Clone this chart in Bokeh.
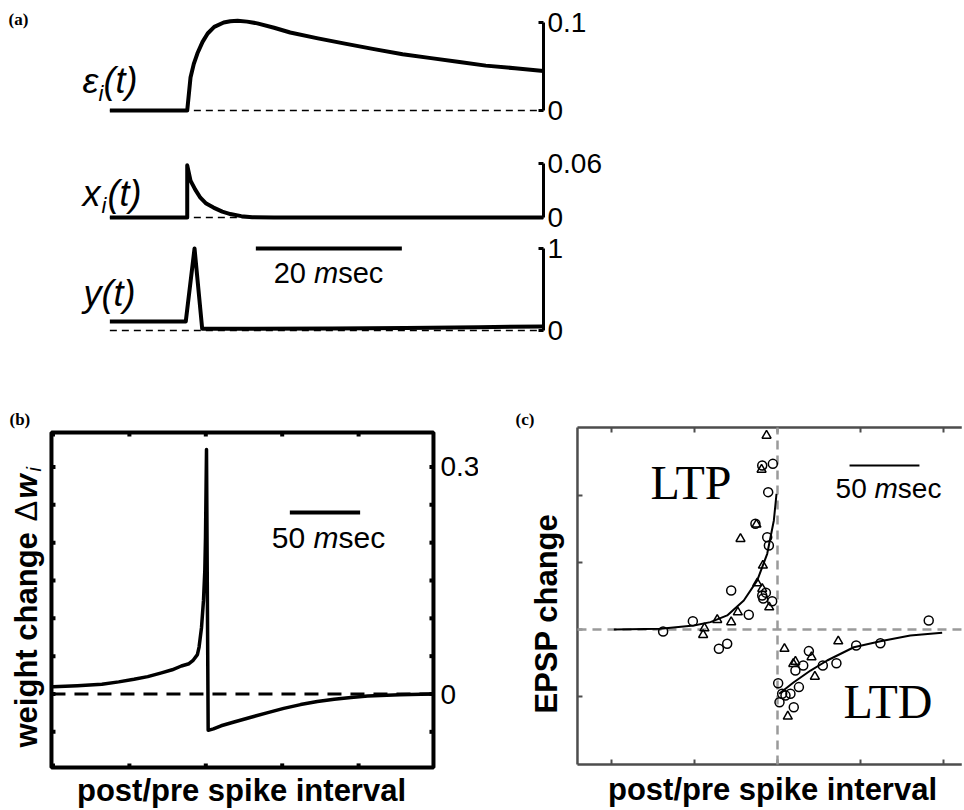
import math
from bokeh.plotting import figure
from bokeh.models import Range1d, LinearAxis, FixedTicker, Label
from bokeh.layouts import column, row
from bokeh.embed import file_html
from bokeh.resources import INLINE

# ---------------- data ----------------
# panel (a): time in ms relative to the presynaptic spike
eps_t = [-10.5, 0.1, 0.55, 1.0, 1.5, 2.2, 2.9, 3.8, 5.1, 6.0, 7.0, 8.3, 9.7, 12.0, 14.2, 18.0,
         21.7, 25.5, 29.6, 33.5, 37.4, 41.0, 45.0, 48.9]
eps_v = [0, 0, 0.0375, 0.053, 0.065, 0.078, 0.0875, 0.095, 0.100, 0.1015, 0.102, 0.101, 0.099,
         0.094, 0.0886, 0.082, 0.076, 0.070, 0.064, 0.0595, 0.055, 0.051, 0.048, 0.045]
x_t = [-10.5, 0.1, 0.1, 0.55, 1.2, 1.9, 2.7, 3.7, 4.9, 6.0, 7.5, 9.0, 12.0, 20.0, 35.0, 48.9]
x_v = [0, 0, 0.058, 0.041, 0.031, 0.022, 0.0155, 0.011, 0.0065, 0.0038, 0.0015, 0.0004, 0, 0, 0, 0]
y_t = [-10.5, -0.1, 1.1, 2.15, 8.3, 20.0, 30.0, 40.0, 48.9]
y_v = [0.11, 0.11, 1.0, 0.02, 0.02, 0.025, 0.03, 0.04, 0.05]
a_ticks = [(0, 0.1), (0, 0.06), (0, 1)]
a_tick_labels = [("0", "0.1"), ("0", "0.06"), ("0", "1")]
a_bar_t = [9.5, 29.5]
a_bar_v = [1.0, 1.0]

# panel (b): weight change vs post/pre spike interval (ms)
b_t = [-100, -84, -68, -57, -47, -38, -29, -22, -16, -11, -8.5, -5.5, -4.4, -2.8, -1.5, -0.65, -0.2, 0.46,
       1.55, 5, 10, 18.5, 29, 40, 51, 62, 73, 84, 95, 106, 127, 148]
b_v = [0.0095, 0.011, 0.0128, 0.016, 0.0194, 0.023, 0.028, 0.032, 0.037, 0.040, 0.044, 0.052, 0.062,
       0.088, 0.124, 0.163, 0.207, 0.323, -0.048, -0.046, -0.042, -0.037, -0.031, -0.025, -0.019,
       -0.014, -0.010, -0.0068, -0.0045, -0.0025, -0.001, 0]
b_xlim = [-101, 149]
b_ylim = [-0.097, 0.3456]
b_yticks = [-0.05, 0, 0.05, 0.1, 0.15, 0.2, 0.25, 0.3]
b_xticks = [-100, -50, 0, 50, 100]
b_ylabels = {0.3: "0.3", 0: "0"}
b_bar_t = [55, 101]
b_bar_v = [0.24, 0.24]

# panel (c): EPSP change (%) vs spike interval (ms)
c_circ_t = [-68.9, -51.0, -35.3, -30.3, -27.9, -17.3, -9.2, -2.8, -5.6, -13.3, -5.2, -6.2, -9.2, -3.2,
            -8.6, -7.0, 91.1, 0.4, 1.2, 2.8, 7.8, 10.8, 15.5, 18.9, 12.9, 9.8, 27.3, 35.5, 47.4, 62.0, 4.8]
c_circ_v = [-1.2, 5.0, -11.5, -8.5, 23.3, 8.8, 97.9, 98.9, 82.0, 63.1, 50.1, 55.1, 20.3, 16.9,
            18.5, 22.0, 5.4, -32.1, -43.4, -38.4, -38.4, -24.5, -21.5, -12.9, -34.4, -46.4, -21.5,
            -20.1, -9.6, -8.2, -39.4]
c_tri_t = [-6.6, -9.6, -12.7, -22.3, -8.8, -12.2, -9.2, -5.0, -23.9, -27.9, -36.3, -44.0, -44.8,
           4.2, 9.5, 20.5, 36.6, 22.5, 6.2, 10.8]
c_tri_v = [115.8, 95.5, 62.7, 54.1, 38.2, 27.6, 24.3, 13.3, 10.3, 4.4, 5.8, 0.8, -3.2,
           -11.5, -20.5, -16.5, -7.0, -28.1, -51.9, -19.2]
ltp_t = [-98.6, -70.5, -50.4, -40.4, -30.3, -20.3, -12.2, -6.2, -2.2, -0.6]
ltp_v = [0, 0.4, 2.4, 4.4, 8.4, 17.3, 29.3, 45.2, 65.1, 81.0]
ltd_t = [1.0, 9.8, 19.9, 29.9, 46.0, 62.0, 80.0, 99.2]
ltd_v = [-38.4, -31.5, -24.5, -18.5, -10.6, -7.0, -3.6, -2.0]
c_xlim = [-120.5, 111]
c_ylim = [-80.6, 120.6]
c_xticks = [-100, -50, 0, 50, 100]
c_yticks = [-40, 0, 40, 80]
c_bar_t = [43.4, 85.5]
c_bar_v = [97.9, 97.9]

SANS = "Liberation Sans"
SERIF = "Liberation Serif"
ROT = math.pi / 2
MID = 0.33  # em distance from the middle of the text box down to its baseline


def lab(p, fx, fy, px, base, text, size, style="normal", font=SANS, align="left"):
    # place text so that its baseline sits at page pixel row `base`
    p.add_layout(Label(x=fx(px), y=fy(base - MID * size), text=text, text_font=font,
                       text_font_style=style, text_font_size=f"{size}px", text_align=align,
                       text_baseline="middle", text_color="black"))


def rlab(p, fx, fy, pxc, pybot, text, size, style):
    p.add_layout(Label(x=fx(pxc), y=fy(pybot), text=text, text_font=SANS, text_font_style=style,
                       text_font_size=f"{size}px", text_align="left", text_baseline="middle",
                       angle=ROT, text_color="black"))


def scale_text(p, fx, fy, cx, base, size, num):
    start = cx - 1.8895 * size
    for txt, px, style in [(num + " ", start, "normal"), ("m", start + 1.39 * size, "italic"),
                           ("sec", start + 2.223 * size, "normal")]:
        lab(p, fx, fy, px, base, txt, size, style)


# ---------------- panel (a) ----------------
def a_t(px):
    return (px - 186) / 7.3


def make_a(height, pv, y_top_px, ticks, labels):
    p = figure(width=623, height=height,
               x_range=Range1d(a_t(0), a_t(543)),
               y_range=Range1d(pv(y_top_px + height), pv(y_top_px)),
               output_backend="svg", toolbar_location=None,
               x_axis_location=None, y_axis_location=None,
               min_border=0, min_border_right=80, outline_line_color=None)
    p.grid.visible = False
    ax = LinearAxis(ticker=FixedTicker(ticks=list(ticks)), bounds=ticks,
                    major_tick_in=5, major_tick_out=0, minor_tick_in=0, minor_tick_out=0,
                    axis_line_width=3, major_tick_line_width=3, major_label_standoff=4,
                    major_label_text_font_size="28px", major_label_text_font=SANS,
                    major_label_text_color="black",
                    major_label_overrides={ticks[0]: labels[0], ticks[1]: labels[1]})
    p.add_layout(ax, "right")
    return p


def italic_pieces(p, pv, x0, base, parts):
    for txt, size, dx, dy in parts:
        lab(p, a_t, pv, x0 + dx, base + dy, txt, size, "italic")


pvE = lambda py: (110 - py) / 880
pvX = lambda py: (217 - py) / 900
pvY = lambda py: (330 - py) / 82

pE = make_a(140, pvE, 0, a_ticks[0], a_tick_labels[0])
pE.line([eps_t[0], a_t(543)], [0, 0], line_color="black", line_width=1.5, line_dash="7 5")
pE.line(eps_t, eps_v, line_color="black", line_width=4, line_join="round")
italic_pieces(pE, pvE, 82, 92, [("ε", 36, 0, 0), ("i", 22, 16, 8), ("(t)", 36, 21, 0)])
lab(pE, a_t, pvE, 8, 25, "(a)", 17, "bold", SERIF)

pX = make_a(92, pvX, 140, a_ticks[1], a_tick_labels[1])
pX.line([x_t[0], a_t(543)], [0, 0], line_color="black", line_width=1.5, line_dash="7 5")
pX.line(x_t, x_v, line_color="black", line_width=4, line_join="round")
italic_pieces(pX, pvX, 82, 205, [("x", 36, 0, 0), ("i", 22, 19, 7), ("(t)", 36, 25, 0)])

pY = make_a(118, pvY, 232, a_ticks[2], a_tick_labels[2])
pY.line([y_t[0], a_t(543)], [0, 0], line_color="black", line_width=1.5, line_dash="7 5")
pY.line(y_t, y_v, line_color="black", line_width=4, line_join="round")
pY.line(a_bar_t, a_bar_v, line_color="black", line_width=4)
italic_pieces(pY, pvY, 83, 305, [("y(t)", 36, 0, 0)])
scale_text(pY, a_t, pvY, 328, 282, 29, "20")

# ---------------- panel (b) ----------------
B_W, C_W, ROW_H, ROW_Y = 478, 484, 458, 350
bx = lambda px: (px - 205.3) / 1.528
by = lambda py: (693.5 - py) / 756.7

pB = figure(width=B_W, height=ROW_H, x_range=Range1d(bx(0), bx(B_W)), y_range=Range1d(by(ROW_Y + ROW_H), by(ROW_Y)),
            output_backend="svg", toolbar_location=None, x_axis_location=None, y_axis_location=None,
            min_border=0, outline_line_color=None)
pB.grid.visible = False
kx = 4 / 1.528
ky = 4 / 756.7
nx, ny = len(b_xticks), len(b_yticks)
pB.segment(x0=b_xticks, x1=b_xticks, y0=[b_ylim[1]] * nx, y1=[b_ylim[1] - ky] * nx,
           line_color="black", line_width=4)
pB.segment(x0=b_xticks, x1=b_xticks, y0=[b_ylim[0]] * nx, y1=[b_ylim[0] + ky] * nx,
           line_color="black", line_width=4)
pB.segment(x0=[b_xlim[0]] * ny, x1=[b_xlim[0] + kx] * ny, y0=b_yticks, y1=b_yticks,
           line_color="black", line_width=4)
pB.segment(x0=[b_xlim[1]] * ny, x1=[b_xlim[1] - kx] * ny, y0=b_yticks, y1=b_yticks,
           line_color="black", line_width=4)
pB.quad(left=[b_xlim[0]], right=[b_xlim[1]], bottom=[b_ylim[0]], top=[b_ylim[1]], fill_color=None,
        line_color="black", line_width=4)
for tv, tl in b_ylabels.items():
    pB.add_layout(Label(x=b_xlim[1] + 7 / 1.528, y=tv, text=tl, text_font=SANS, text_font_size="28px",
                        text_align="left", text_baseline="middle", text_color="black"))

pB.line(b_xlim, [0, 0], line_color="black", line_width=3, line_dash="14 9")
pB.line(b_t, b_v, line_color="black", line_width=3.5, line_join="round")
pB.line(b_bar_t, b_bar_v, line_color="black", line_width=4)
scale_text(pB, bx, by, 328, 547, 30, "50")
lab(pB, bx, by, 241, 800, "post/pre spike interval", 31, "bold", align="center")
lab(pB, bx, by, 9, 425, "(b)", 17, "bold", SERIF)
for txt, ybot, size, style, xc in [("weight change", 747, 31, "bold", 26),
                                   ("Δ", 521, 31, "normal", 26),
                                   ("w", 498, 31, "bold italic", 26),
                                   ("i", 471, 20, "italic", 33)]:
    rlab(pB, bx, by, xc, ybot, txt, size, style)

# ---------------- panel (c) ----------------
cx = lambda px: (px - 777) / 1.66
cy = lambda py: (629 - py) * 40 / 67
CX0 = B_W

pC = figure(width=C_W, height=ROW_H, x_range=Range1d(cx(CX0), cx(CX0 + C_W)),
            y_range=Range1d(cy(ROW_Y + ROW_H), cy(ROW_Y)),
            output_backend="svg", toolbar_location=None, x_axis_location=None, y_axis_location=None,
            min_border=0, outline_line_color=None)
pC.grid.visible = False
GR = "#4d4d4d"
ckx = 5 / 1.66
cky = 5 * 40 / 67
mx, my = len(c_xticks), len(c_yticks)
pC.line([c_xlim[0], c_xlim[0]], c_ylim, line_color=GR, line_width=2.5)
pC.line([c_xlim[0], c_xlim[1]], [c_ylim[1], c_ylim[1]], line_color=GR, line_width=2.5)
pC.line([c_xlim[0], c_xlim[1]], [c_ylim[0], c_ylim[0]], line_color=GR, line_width=2.5)
pC.segment(x0=c_xticks, x1=c_xticks, y0=[c_ylim[1]] * mx, y1=[c_ylim[1] - cky] * mx,
           line_color=GR, line_width=2)
pC.segment(x0=c_xticks, x1=c_xticks, y0=[c_ylim[0]] * mx, y1=[c_ylim[0] + cky] * mx,
           line_color=GR, line_width=2)
pC.segment(x0=[c_xlim[0]] * my, x1=[c_xlim[0] + ckx] * my, y0=c_yticks, y1=c_yticks,
           line_color=GR, line_width=2)
pC.line([c_xlim[0], c_xlim[1]], [0, 0], line_color="#9a9a9a", line_width=2.5, line_dash="9 6")
pC.line([0, 0], c_ylim, line_color="#9a9a9a", line_width=2.5, line_dash="9 6")
pC.line(ltp_t, ltp_v, line_color="black", line_width=2)
pC.line(ltd_t, ltd_v, line_color="black", line_width=2)
pC.scatter(c_circ_t, c_circ_v, marker="circle", size=9, fill_color=None, line_color="black",
           line_width=1.5)
pC.scatter(c_tri_t, c_tri_v, marker="triangle", size=9, fill_color=None, line_color="black",
           line_width=1.5)
pC.line(c_bar_t, c_bar_v, line_color="black", line_width=2)
scale_text(pC, cx, cy, 888, 497, 28, "50")
lab(pC, cx, cy, 650, 498, "LTP", 48, font=SERIF)
lab(pC, cx, cy, 843, 717, "LTD", 48, font=SERIF)
lab(pC, cx, cy, 772, 799, "post/pre spike interval", 31, "bold", align="center")
rlab(pC, cx, cy, 546, 713, "EPSP change", 31, "bold")
lab(pC, cx, cy, 515, 425, "(c)", 17, "bold", SERIF)

layout = column(pE, pX, pY, row(pB, pC))
open("out.html", "w").write(file_html(layout, INLINE))
